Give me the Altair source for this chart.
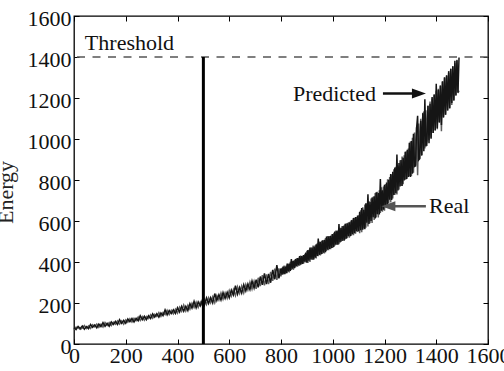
import altair as alt
import pandas as pd

# ---------------- data ----------------
# sampled every 8 steps up to 792, every 4 steps in the dense, noisy part
sample = list(range(0, 800, 8)) + list(range(800, 1489, 4))

predicted = [
    80, 70, 86, 76, 88, 72, 85, 75, 95, 81,
    93, 79, 97, 85, 104, 86, 101, 87, 108, 95,
    110, 95, 119, 101, 116, 101, 122, 109, 125, 107,
    125, 113, 138, 119, 136, 119, 138, 124, 147, 131,
    148, 131, 152, 138, 167, 142, 163, 148, 167, 149,
    177, 156, 184, 160, 184, 163, 197, 175, 208, 176,
    205, 186, 214, 189, 225, 197, 226, 200, 246, 212,
    241, 214, 251, 222, 252, 225, 263, 239, 284, 243,
    276, 248, 289, 259, 293, 265, 308, 273, 314, 276,
    329, 289, 345, 292, 342, 299, 361, 316, 385, 320,
    369, 338, 378, 341, 378, 345, 392, 354, 392, 356,
    414, 367, 406, 370, 414, 380, 419, 383, 429, 387,
    429, 391, 434, 402, 446, 397, 458, 406, 470, 412,
    471, 411, 475, 421, 486, 430, 515, 435, 497, 438,
    506, 446, 508, 448, 524, 460, 525, 464, 528, 468,
    536, 473, 548, 485, 552, 484, 585, 495, 567, 503,
    575, 504, 586, 514, 589, 526, 594, 526, 604, 536,
    615, 540, 619, 550, 627, 550,
    645, 555, 663, 558, 655, 560, 687, 592, 730, 585,
    693, 600, 715, 618, 720, 612, 740, 633, 737, 632,
    805, 650, 750, 655, 777, 667, 788, 677, 801, 704,
    829, 703, 840, 727, 861, 736, 924, 749, 883, 768,
    898, 771, 908, 798, 938, 804, 948, 815, 981, 815,
    990, 831, 1026, 867, 872, 1052, 1113, 898, 904, 1089,
    919, 1125, 940, 1194, 964, 991, 1162, 979, 1172, 1001,
    1205, 1029, 1217, 1041, 1270, 1053, 1240, 1083, 1260, 1068,
    1281, 1108, 1301, 1118, 1311, 1139, 1331, 1149, 1343, 1176,
    1355, 1188, 1382, 1215, 1384, 1227, 1398,
]

real = [
    70, 82, 80, 71, 77, 90, 76, 88, 76, 94,
    84, 97, 81, 96, 83, 105, 91, 105, 90, 106,
    96, 113, 97, 113, 97, 118, 106, 123, 107, 125,
    114, 132, 115, 134, 116, 134, 124, 143, 126, 145,
    134, 153, 135, 154, 143, 165, 144, 164, 147, 170,
    151, 180, 160, 190, 161, 189, 169, 199, 178, 204,
    178, 205, 187, 218, 193, 226, 201, 230, 201, 237,
    214, 249, 218, 250, 223, 261, 233, 266, 236, 279,
    247, 283, 249, 291, 263, 302, 267, 306, 269, 323,
    282, 336, 286, 339, 292, 352, 308, 368, 313, 369,
    330, 372, 340, 382, 341, 383, 346, 391, 349, 401,
    361, 405, 362, 409, 374, 418, 377, 420, 382, 431,
    390, 431, 393, 440, 398, 455, 396, 459, 400, 471,
    411, 480, 413, 481, 417, 491, 428, 500, 432, 502,
    439, 506, 442, 517, 454, 526, 457, 527, 463, 535,
    468, 543, 480, 553, 484, 554, 487, 564, 498, 575,
    505, 579, 510, 588, 516, 592, 519, 597, 528, 606,
    531, 614, 538, 619, 547, 628,
    540, 652, 545, 667, 563, 680, 567, 685, 573, 698,
    589, 710, 590, 718, 605, 736, 617, 742, 617, 750,
    639, 764, 645, 768, 650, 780, 670, 803, 687, 814,
    691, 827, 710, 852, 727, 864, 729, 871, 753, 896,
    771, 915, 780, 920, 801, 940, 806, 953, 818, 988,
    818, 1006, 836, 1032, 864, 1057, 823, 1075, 904, 1099,
    922, 1123, 1130, 954, 1140, 966, 1162, 994, 1183, 1006,
    1197, 1029, 1217, 1043, 1235, 1048, 1245, 1078, 1262, 1038,
    1281, 1103, 1299, 1118, 1308, 1139, 1323, 1151, 1343, 1166,
    1355, 1188, 1370, 1210, 1387, 1225, 1236,
]

tick_values = [0, 200, 400, 600, 800, 1000, 1200, 1400, 1600]
threshold = 1400
change_point = 500

label_text = ["Threshold", "Predicted", "Real"]
label_x = [42, 846, 1372]
label_y = [1435, 1185, 639]
label_color = ["#111111", "#111111", "#111111"]

pred_arrow = {"x": 1194, "x2": 1334, "y": 1222, "head": 1333}
real_arrow = {"x": 1214, "x2": 1360, "y": 672, "head": 1215}

# ---------------- styling ----------------
FONT = "Liberation Serif"
FS = 22
xs = alt.Scale(domain=[0, 1600], nice=False, zero=False)
ys = alt.Scale(domain=[0, 1600], nice=False, zero=False)

x_label_axis = alt.Axis(values=tick_values, orient="bottom", labelFont=FONT, labelFontSize=FS,
                        labelColor="#111111", labelPadding=1, ticks=False, tickSize=0,
                        domain=False, grid=False, title=None, labelFlush=False,
                        labelOverlap=False, format="d")
x_tick_bottom = alt.Axis(values=tick_values, orient="bottom", labels=False, ticks=True,
                         tickSize=5, tickColor="black", tickWidth=1, domain=False,
                         grid=False, offset=-5, title=None)
x_tick_top = alt.Axis(values=tick_values, orient="top", labels=False, ticks=True,
                      tickSize=5, tickColor="black", tickWidth=1, domain=False,
                      grid=False, offset=-5, title=None)
y_label_axis = alt.Axis(values=tick_values, orient="left", labelFont=FONT, labelFontSize=FS,
                        labelColor="#111111", labelPadding=3, labelOffset=2, ticks=False,
                        tickSize=0, domain=False, grid=False, labelFlush=False,
                        labelOverlap=False, format="d", title="Energy", titleFont=FONT,
                        titleFontSize=FS, titleFontWeight="normal", titleColor="#222222",
                        titleAngle=270, titleX=-62, titleY=176, titleAlign="center",
                        titleBaseline="alphabetic")
y_tick_left = alt.Axis(values=tick_values, orient="left", labels=False, ticks=True,
                       tickSize=5, tickColor="black", tickWidth=1, domain=False,
                       grid=False, offset=-5, title=None)
y_tick_right = alt.Axis(values=tick_values, orient="right", labels=False, ticks=True,
                        tickSize=5, tickColor="black", tickWidth=1, domain=False,
                        grid=False, offset=-5, title=None)

df_pred = pd.DataFrame({"sample": sample, "energy": predicted})
df_real = pd.DataFrame({"sample": sample, "energy": real})
df_thr = pd.DataFrame({"energy": [threshold]})
df_v = pd.DataFrame({"sample": [change_point], "y0": [0], "y1": [threshold]})
df_lab = pd.DataFrame({"text": label_text, "x": label_x, "y": label_y, "c": label_color})

real_line = alt.Chart(df_real).mark_line(color="#5e5e5e", strokeWidth=1.5).encode(
    x=alt.X("sample:Q", scale=xs, axis=x_label_axis),
    y=alt.Y("energy:Q", scale=ys, axis=y_label_axis),
)
pred_line = alt.Chart(df_pred).mark_line(color="#151515", strokeWidth=1.5).encode(
    x=alt.X("sample:Q", scale=xs, axis=x_tick_bottom),
    y=alt.Y("energy:Q", scale=ys, axis=y_tick_left),
)
thr_rule = alt.Chart(df_thr).mark_rule(color="#555555", strokeWidth=1.3,
                                       strokeDash=[8, 7.5]).encode(
    y=alt.Y("energy:Q", scale=ys, axis=y_tick_right),
)
v_rule = alt.Chart(df_v).mark_rule(color="black", strokeWidth=3).encode(
    x=alt.X("sample:Q", scale=xs, axis=x_tick_top),
    y=alt.Y("y0:Q", scale=ys, axis=None),
    y2="y1:Q",
)
labels = alt.Chart(df_lab).mark_text(align="left", baseline="alphabetic", font=FONT,
                                     fontSize=FS).encode(
    x=alt.X("x:Q", scale=xs, axis=None),
    y=alt.Y("y:Q", scale=ys, axis=None),
    text="text:N",
    color=alt.Color("c:N", scale=None),
)

df_pa = pd.DataFrame([pred_arrow])
df_ra = pd.DataFrame([real_arrow])
pred_shaft = alt.Chart(df_pa).mark_rule(color="#111111", strokeWidth=2.5).encode(
    x=alt.X("x:Q", scale=xs, axis=None), x2="x2:Q", y=alt.Y("y:Q", scale=ys, axis=None))
pred_head = alt.Chart(df_pa).mark_point(shape="M-1,-0.7L1,0L-1,0.7Z", filled=True, size=196,
                                        color="#111111", opacity=1, strokeWidth=0).encode(
    x=alt.X("head:Q", scale=xs, axis=None), y=alt.Y("y:Q", scale=ys, axis=None))
real_shaft = alt.Chart(df_ra).mark_rule(color="#555555", strokeWidth=2.5).encode(
    x=alt.X("x:Q", scale=xs, axis=None), x2="x2:Q", y=alt.Y("y:Q", scale=ys, axis=None))
real_head = alt.Chart(df_ra).mark_point(shape="M1,-0.7L-1,0L1,0.7Z", filled=True, size=196,
                                        color="#555555", opacity=1, strokeWidth=0).encode(
    x=alt.X("head:Q", scale=xs, axis=None), y=alt.Y("y:Q", scale=ys, axis=None))

chart = alt.layer(
    real_line, pred_line, thr_rule, v_rule, labels,
    pred_shaft, pred_head, real_shaft, real_head,
).resolve_axis(x="independent", y="independent").properties(
    width=414, height=328,
    autosize=alt.AutoSizeParams(type="none"),
    padding={"left": 74, "top": 16, "right": 16, "bottom": 27},
    background="white",
).configure_view(stroke="black", strokeWidth=1.3)

chart.save("out.html", embed_options={"renderer": "svg", "actions": False})
